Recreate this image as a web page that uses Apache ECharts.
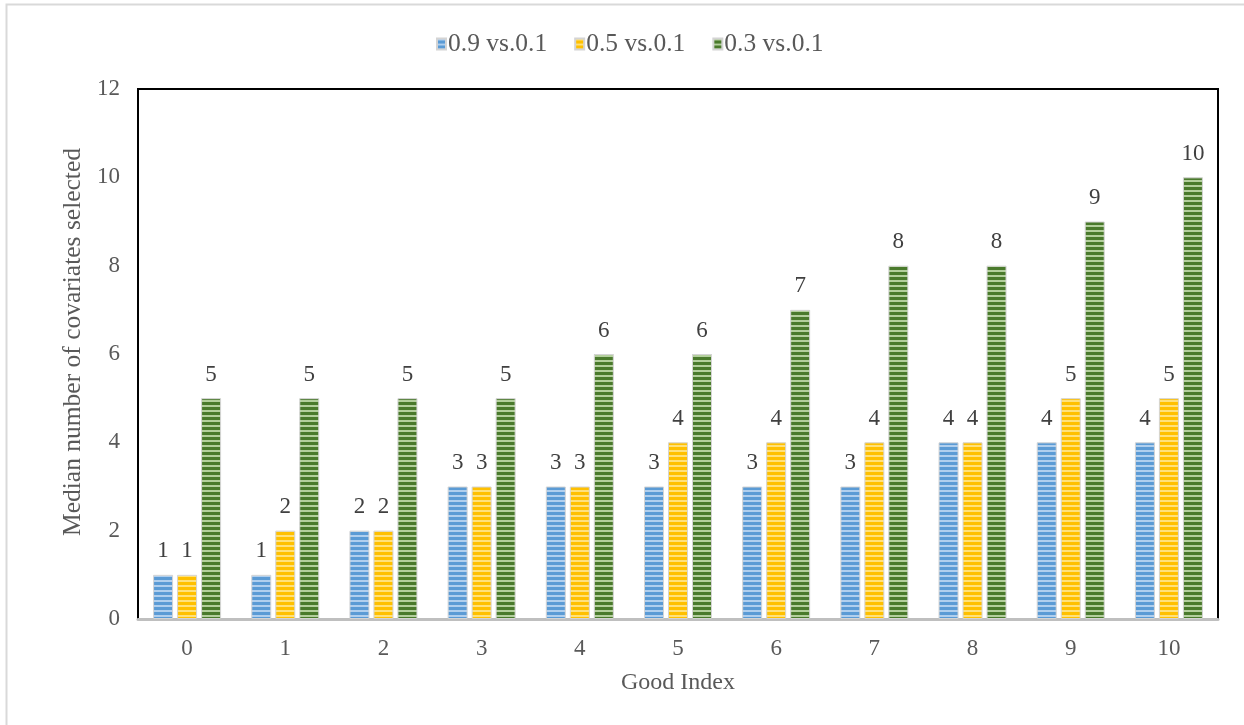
<!DOCTYPE html>
<html>
<head>
<meta charset="utf-8">
<script src="https://cdn.jsdelivr.net/npm/echarts@6/dist/echarts.min.js"></script>
<style>
  html, body { margin: 0; padding: 0; background: #fff; }
  #chart { width: 1244px; height: 725px; }
</style>
</head>
<body>
<div id="chart"></div>
<script>
// Categories and series values
const categories = ['0', '1', '2', '3', '4', '5', '6', '7', '8', '9', '10'];
const seriesNames = ['0.9 vs.0.1', '0.5 vs.0.1', '0.3 vs.0.1'];
const values09 = [1, 1, 2, 3, 3, 3, 3, 3, 4, 4, 4];
const values05 = [1, 2, 2, 3, 3, 4, 4, 4, 4, 5, 5];
const values03 = [5, 5, 5, 5, 6, 6, 7, 8, 8, 9, 10];
const yTicks = { min: 0, max: 12, interval: 2 };

// Horizontal stripe fill for the bars
function stripes(light, dark) {
  const c = document.createElement('canvas');
  c.width = 4; c.height = 5;
  const g = c.getContext('2d');
  g.fillStyle = light; g.fillRect(0, 0, 4, 2);
  g.fillStyle = dark; g.fillRect(0, 2, 4, 3);
  return { image: c, repeat: 'repeat' };
}

const fills = [
  stripes('#b0cfee', '#5b9bd5'),
  stripes('#ffe17a', '#ffc000'),
  stripes('#b3cf9c', '#4a7a2c')
];
const allValues = [values09, values05, values03];

const font = '"Liberation Serif", "Times New Roman", serif';
const textColor = '#595959';

const chart = echarts.init(document.getElementById('chart'), null, { renderer: 'canvas' });
chart.setOption({
  backgroundColor: '#fff',
  animation: false,
  textStyle: { fontFamily: font },
  graphic: [
    { type: 'polyline', shape: { points: [[6.5, 725], [6.5, 4.5], [1244, 4.5]] },
      style: { stroke: '#d9d9d9', lineWidth: 2, fill: null } }
  ],
  legend: {
    top: 26,
    left: 431,
    itemWidth: 9,
    itemHeight: 11,
    itemGap: 27,
    icon: 'rect',
    textStyle: { fontFamily: font, fontSize: 25.5, color: textColor, padding: [0, 0, 0, -3] },
    data: seriesNames
  },
  grid: {
    left: 138, right: 26, top: 89, bottom: 106,
    show: true, borderColor: '#000', borderWidth: 2
  },
  xAxis: {
    type: 'category',
    data: categories,
    name: 'Good Index',
    nameLocation: 'middle',
    nameGap: 52,
    nameTextStyle: { fontFamily: font, fontSize: 24, color: textColor },
    axisLine: { lineStyle: { color: '#bfbfbf', width: 3 } },
    axisTick: { show: false },
    axisLabel: { fontFamily: font, fontSize: 23, color: textColor, margin: 18 }
  },
  yAxis: {
    type: 'value',
    min: yTicks.min, max: yTicks.max, interval: yTicks.interval,
    name: 'Median number of covariates selected',
    nameLocation: 'middle',
    nameGap: 50,
    nameTextStyle: { fontFamily: font, fontSize: 25.5, color: textColor, padding: [0, 0, 0, 24] },
    axisLine: { show: false },
    axisTick: { show: false },
    splitLine: { show: false },
    axisLabel: { fontFamily: font, fontSize: 23, color: textColor, margin: 18 }
  },
  series: seriesNames.map((name, i) => ({
    name,
    type: 'bar',
    data: allValues[i],
    barWidth: 20,
    barGap: '20%',
    itemStyle: { color: fills[i], borderColor: '#d4d4d4', borderWidth: 1 },
    label: {
      show: true, position: 'top', distance: 12,
      fontFamily: font, fontSize: 23, color: '#404040'
    }
  }))
});
</script>
</body>
</html>
